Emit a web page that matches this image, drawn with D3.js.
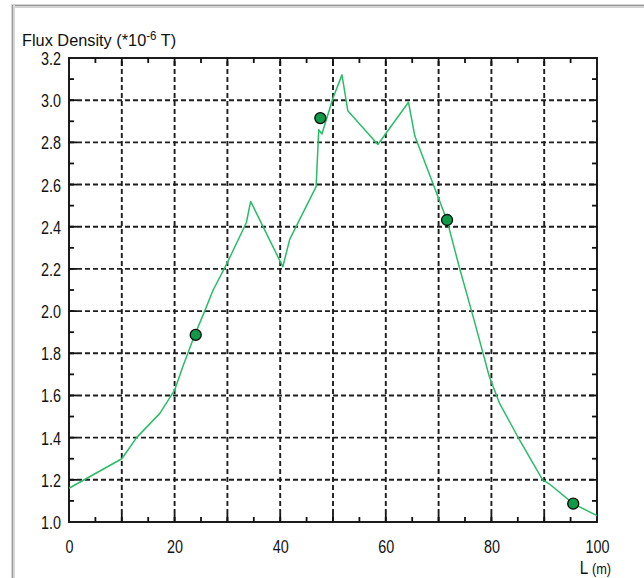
<!DOCTYPE html>
<html>
<head>
<meta charset="utf-8">
<script src="https://cdn.jsdelivr.net/npm/d3@7"></script>
<style>
  html, body { margin: 0; padding: 0; background: #fff; }
  svg { display: block; }
  text { font-family: "Liberation Sans", Arial, sans-serif; fill: #111; }
</style>
</head>
<body>
<svg id="chart" width="644" height="578"></svg>
<script>
// Flux density profile along the measured line
const distance = [0, 10, 12.8, 17.2, 20, 21.6, 23.7, 25.7, 27.3, 29.8, 33.6, 34.4, 40.5, 41.8, 46.8, 47.3, 47.9, 50.0, 51.7, 52.8, 58.5, 64.3, 65.5, 71.6, 73.9, 76.8, 79.6, 81.5, 85.3, 89.7, 91.0, 95.5, 100];
const flux     = [1.16, 1.30, 1.40, 1.515, 1.625, 1.74, 1.88, 2.00, 2.10, 2.22, 2.42, 2.52, 2.21, 2.34, 2.59, 2.86, 2.84, 3.01, 3.12, 2.95, 2.79, 2.99, 2.83, 2.43, 2.21, 1.95, 1.69, 1.565, 1.39, 1.20, 1.18, 1.087, 1.03];

// Sampled stations
const stationL = [24, 47.6, 71.6, 95.5];
const stationB = [1.887, 2.915, 2.432, 1.087];

// Axis labels
const xTickValues = [0, 20, 40, 60, 80, 100];
const yTickValues = [1.0, 1.2, 1.4, 1.6, 1.8, 2.0, 2.2, 2.4, 2.6, 2.8, 3.0, 3.2];
const xGrid = [10, 20, 30, 40, 50, 60, 70, 80, 90];
const xMinor = [5, 15, 25, 35, 45, 55, 65, 75, 85, 95];
const yGrid = [1.2, 1.4, 1.6, 1.8, 2.0, 2.2, 2.4, 2.6, 2.8, 3.0];
const yMinor = [1.1, 1.3, 1.5, 1.7, 1.9, 2.1, 2.3, 2.5, 2.7, 2.9, 3.1];

const svg = d3.select("#chart");
const plotLeft = 69, plotRight = 597, plotTop = 58, plotBottom = 522;
const narrow = "scale(0.8,1)";

const x = d3.scaleLinear().domain([0, 100]).range([plotLeft, plotRight]);
const y = d3.scaleLinear().domain([1.0, 3.2]).range([plotBottom, plotTop]);

// window frame (sunken edge on top and left)
svg.append("rect").attr("x", 12).attr("y", 4).attr("width", 632).attr("height", 4).attr("fill", "#d4d4d4");
svg.append("line").attr("x1", 12).attr("x2", 644).attr("y1", 5.5).attr("y2", 5.5).attr("stroke", "#9a9a9a").attr("stroke-width", 1);
svg.append("rect").attr("x", 11).attr("y", 4).attr("width", 4).attr("height", 574).attr("fill", "#d4d4d4");
svg.append("line").attr("x1", 12.5).attr("x2", 12.5).attr("y1", 5).attr("y2", 578).attr("stroke", "#9a9a9a").attr("stroke-width", 1);

const g = svg.append("g");

// dashed grid
g.selectAll(".vgrid").data(xGrid).join("line")
  .attr("x1", d => x(d)).attr("x2", d => x(d))
  .attr("y1", plotBottom).attr("y2", plotTop)
  .attr("stroke", "#1e1e1e").attr("stroke-width", 1.9)
  .attr("stroke-dasharray", "5,3");
g.selectAll(".hgrid").data(yGrid).join("line")
  .attr("x1", plotLeft).attr("x2", plotRight)
  .attr("y1", d => y(d)).attr("y2", d => y(d))
  .attr("stroke", "#1e1e1e").attr("stroke-width", 1.9)
  .attr("stroke-dasharray", "5,3");

// inward ticks on all four sides
const tickStroke = "#111";
function hTicks(vals, len) {
  g.append("g").selectAll("line").data(vals).join("line")
    .attr("x1", plotLeft).attr("x2", plotLeft + len)
    .attr("y1", d => y(d)).attr("y2", d => y(d))
    .attr("stroke", tickStroke).attr("stroke-width", 1.8);
  g.append("g").selectAll("line").data(vals).join("line")
    .attr("x1", plotRight).attr("x2", plotRight - len)
    .attr("y1", d => y(d)).attr("y2", d => y(d))
    .attr("stroke", tickStroke).attr("stroke-width", 1.8);
}
function vTicks(vals, len) {
  g.append("g").selectAll("line").data(vals).join("line")
    .attr("x1", d => x(d)).attr("x2", d => x(d))
    .attr("y1", plotBottom).attr("y2", plotBottom - len)
    .attr("stroke", tickStroke).attr("stroke-width", 1.8);
  g.append("g").selectAll("line").data(vals).join("line")
    .attr("x1", d => x(d)).attr("x2", d => x(d))
    .attr("y1", plotTop).attr("y2", plotTop + len)
    .attr("stroke", tickStroke).attr("stroke-width", 1.8);
}
hTicks(yMinor, 5);
hTicks(yGrid, 8);
vTicks(xMinor, 5);
vTicks(xGrid, 8);

// plot frame
g.append("rect").attr("x", plotLeft).attr("y", plotTop)
  .attr("width", plotRight - plotLeft).attr("height", plotBottom - plotTop)
  .attr("fill", "none").attr("stroke", "#111").attr("stroke-width", 1.9);

// axis labels through d3 axes
const xAxis = d3.axisBottom(x).tickValues(xTickValues).tickSize(0).tickPadding(0)
  .tickFormat(d3.format("d"));
const xa = svg.append("g").attr("transform", `translate(0,${plotBottom + 18})`).call(xAxis);
xa.select(".domain").remove();
xa.attr("font-family", null).attr("font-size", null);
xa.selectAll("text").attr("font-size", 18).attr("dy", "0.72em").attr("y", 0).attr("transform", narrow);

const yAxis = d3.axisLeft(y).tickValues(yTickValues).tickSize(0).tickPadding(0)
  .tickFormat(d3.format(".1f"));
const ya = svg.append("g").attr("transform", `translate(${plotLeft - 8},0)`).call(yAxis);
ya.select(".domain").remove();
ya.attr("font-family", null).attr("font-size", null);
ya.selectAll("text").attr("font-size", 18).attr("dy", "0.36em").attr("transform", narrow);

// data line
const line = d3.line().x((d, i) => x(distance[i])).y((d, i) => y(flux[i]));
g.append("path").datum(flux)
  .attr("d", line)
  .attr("fill", "none").attr("stroke", "#2abd68").attr("stroke-width", 1.5)
  .attr("stroke-linejoin", "round");

// station markers
g.selectAll(".station").data(stationL).join("circle")
  .attr("cx", d => x(d)).attr("cy", (d, i) => y(stationB[i]))
  .attr("r", 5.5)
  .attr("fill", "#0f9a48").attr("stroke", "#0a0a0a").attr("stroke-width", 1.3);

// titles
const title = svg.append("text").attr("transform", "translate(22,46) scale(0.96,1)").attr("font-size", 17);
title.append("tspan").text("Flux Density (*10");
title.append("tspan").attr("dy", -6).attr("font-size", 12).text("-6");
title.append("tspan").attr("dy", 6).text(" T)");

const xl = svg.append("text").attr("transform", "translate(611,574) scale(0.85,1)").attr("text-anchor", "end").attr("font-size", 18);
xl.append("tspan").text("L ");
xl.append("tspan").attr("font-size", 15).text("(m)");
</script>
</body>
</html>
